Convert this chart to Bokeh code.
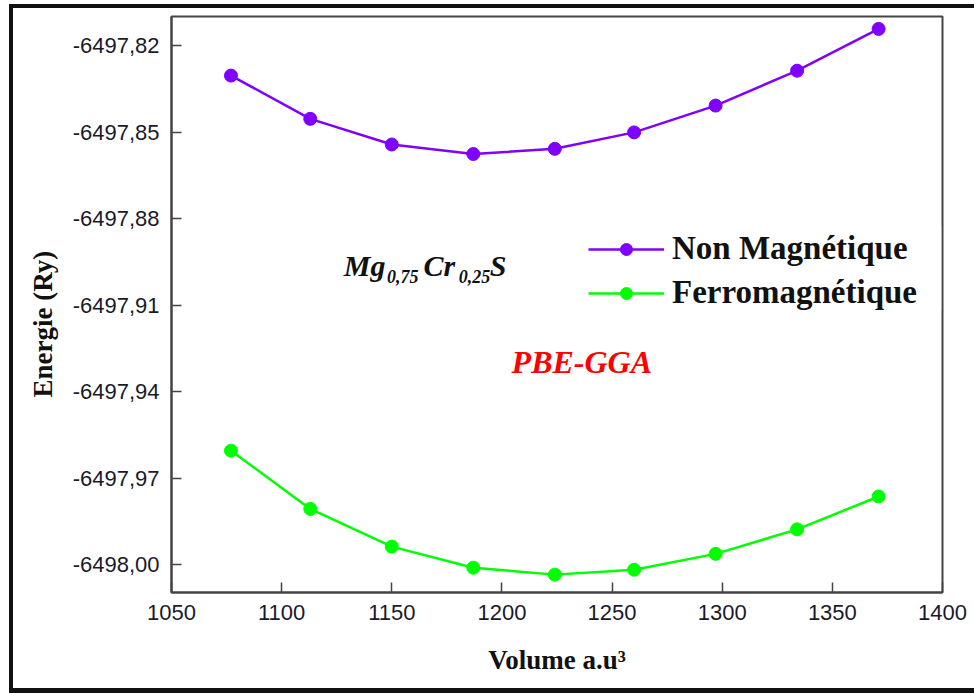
from bokeh.plotting import figure
from bokeh.models import (Range1d, FixedTicker, CustomJSTickFormatter, Legend,
                          LegendItem, Label, BoxAnnotation, Title)
from bokeh.embed import file_html
from bokeh.resources import INLINE

# Cell volume (a.u.^3) and total energy (Ry) for Mg0.75Cr0.25S, PBE-GGA
volume = [1077, 1113, 1150, 1187, 1224, 1260, 1297, 1334, 1371]
energy_non_magnetic = [-6497.8304, -6497.8454, -6497.8543, -6497.8576, -6497.8558,
                       -6497.8501, -6497.8408, -6497.8287, -6497.8142]
energy_ferromagnetic = [-6497.9605, -6497.9807, -6497.9938, -6498.0011, -6498.0035,
                        -6498.0018, -6497.9963, -6497.9878, -6497.9764]
series_names = ["Non Magnétique", "Ferromagnétique"]
series_colors = ["#7f00ff", "#00ff00"]

x_ticks = [1050, 1100, 1150, 1200, 1250, 1300, 1350, 1400]
y_ticks = [-6497.82, -6497.85, -6497.88, -6497.91, -6497.94, -6497.97, -6498.00]

SERIF = "Liberation Serif"
SANS = "Liberation Sans"

p = figure(width=961, height=680, output_backend="svg", toolbar_location=None,
           x_range=Range1d(1050, 1400), y_range=Range1d(-6498.0097, -6497.8099),
           min_border_left=156, min_border_right=32, min_border_top=8,
           min_border_bottom=96)
# heavy black frame around the figure (left, top and bottom edges)
p.styles = {"margin-left": "13px", "margin-top": "8px",
            "box-shadow": ("-4px 0 0 0 #111, 0 -4px 0 0 #111, 0 5px 0 0 #111, "
                           "-4px -4px 0 0 #111, -4px 5px 0 0 #111")}

p.grid.visible = False
p.background_fill_color = "white"
p.border_fill_color = "white"
p.outline_line_color = "#444"
p.outline_line_width = 2

for ax in (p.xaxis[0], p.yaxis[0]):
    ax.axis_line_color = "#444"
    ax.axis_line_width = 2
    ax.major_tick_line_color = "#444"
    ax.major_tick_line_width = 1.5
    ax.major_tick_in = 10
    ax.major_tick_out = 0
    ax.minor_tick_line_color = None
    ax.major_label_text_font = SANS
    ax.major_label_text_font_size = "22px"
    ax.major_label_text_color = "#1a1a2a"
    ax.axis_label_text_font = SERIF
    ax.axis_label_text_font_style = "bold"
    ax.axis_label_text_font_size = "27px"
    ax.axis_label_text_color = "#111"

p.xaxis.ticker = FixedTicker(ticks=x_ticks)
p.yaxis.ticker = FixedTicker(ticks=y_ticks)
p.yaxis.formatter = CustomJSTickFormatter(code="return tick.toFixed(2).replace('.', ',');")
p.xaxis.major_label_standoff = 12
p.yaxis.major_label_standoff = 12
p.xaxis.axis_label = "Volume a.u³"
p.xaxis.axis_label_standoff = 22

# vertical axis title, set a little below the middle of the frame
p.add_layout(Title(text="Energie (Ry)", align="left", offset=195, standoff=24,
                   text_font=SERIF, text_font_style="bold",
                   text_font_size="27px", text_color="#111"), "left")

items = []
for name, color, energy in zip(series_names, series_colors,
                               [energy_non_magnetic, energy_ferromagnetic]):
    ln = p.line(volume, energy, line_color=color, line_width=2.5)
    sc = p.scatter(volume, energy, marker="circle", size=13,
                   fill_color=color, line_color=color)
    items.append(LegendItem(label=name, renderers=[ln, sc]))

legend = Legend(items=items, location=(417, 281), orientation="vertical",
                glyph_width=76, glyph_height=30, label_height=30, spacing=7,
                label_standoff=8, padding=0, margin=0, level="underlay",
                border_line_color=None, background_fill_alpha=0,
                label_text_font=SERIF, label_text_font_style="bold",
                label_text_font_size="33px", label_text_color="#111")
p.add_layout(legend, "center")

# the legend box cuts its labels off at its right edge
p.add_layout(BoxAnnotation(left=1383.8, right=1399.4, top=-6497.8824,
                           bottom=-6497.9119, fill_color="white", fill_alpha=1,
                           line_color=None, level="overlay"))

# compound formula with subscripts
formula_parts = [
    ("Mg", 1128.2, -6497.8963, "30px"),
    ("0,75", 1147.8, -6497.9001, "18px"),
    ("Cr", 1164.4, -6497.8963, "30px"),
    ("0,25", 1180.4, -6497.9001, "18px"),
    ("S", 1194.5, -6497.8963, "30px"),
]
for txt, x, y, size in formula_parts:
    p.add_layout(Label(x=x, y=y, text=txt, text_font=SERIF,
                       text_font_style="bold italic", text_font_size=size,
                       text_color="#111", text_baseline="alphabetic",
                       text_align="left"))

p.add_layout(Label(x=1204.4, y=-6497.9299, text="PBE-GGA", text_font=SERIF,
                   text_font_style="bold italic", text_font_size="32px",
                   text_color="#ff0000", text_baseline="alphabetic",
                   text_align="left"))

open("out.html", "w").write(file_html(p, INLINE))
